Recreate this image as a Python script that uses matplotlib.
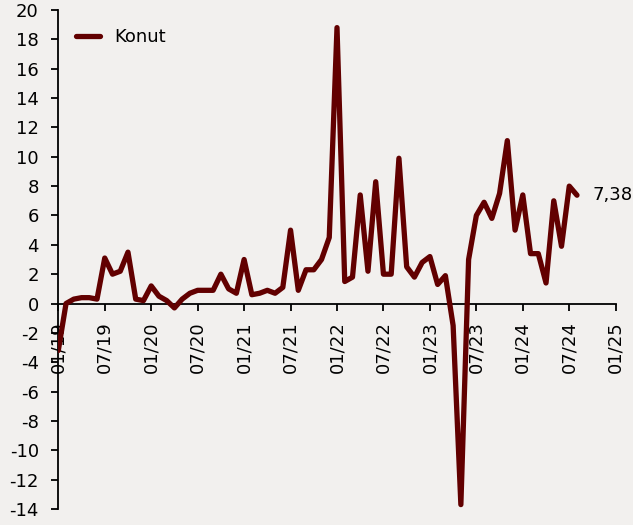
import matplotlib
matplotlib.use("Agg")
import matplotlib.pyplot as plt

# Monthly values, Jan 2019 .. Aug 2024
values = [-3.2, 0.0, 0.3, 0.4, 0.4, 0.3, 3.1, 2.0, 2.2, 3.5, 0.3, 0.2,
          1.2, 0.5, 0.2, -0.3, 0.3, 0.7, 0.9, 0.9, 0.9, 2.0, 1.0, 0.7,
          3.0, 0.6, 0.7, 0.9, 0.7, 1.1, 5.0, 0.9, 2.3, 2.3, 3.0, 4.5,
          18.8, 1.5, 1.8, 7.4, 2.2, 8.3, 2.0, 2.0, 9.9, 2.5, 1.8, 2.8,
          3.2, 1.3, 1.9, -1.5, -13.7, 3.0, 6.0, 6.9, 5.8, 7.5, 11.1, 5.0,
          7.4, 3.4, 3.4, 1.4, 7.0, 3.9, 8.0, 7.38]
tick_labels = ["01/19", "07/19", "01/20", "07/20", "01/21", "07/21", "01/22",
               "07/22", "01/23", "07/23", "01/24", "07/24", "01/25"]
series_name = "Konut"
last_label = "7,38"

months = list(range(len(values)))
tick_pos = [6 * i for i in range(len(tick_labels))]

bg = "#F2F0EE"
line_color = "#620000"
plt.rcParams["font.family"] = ["DejaVu Sans"]
plt.rcParams["axes.unicode_minus"] = False

fig = plt.figure(figsize=(6.33, 5.25), dpi=100, facecolor=bg)
ax = fig.add_axes([58.3 / 633, 1 - 509 / 525, (615.7 - 58.3) / 633, (509 - 10) / 525])
ax.set_facecolor(bg)

ax.plot(months, values, color=line_color, lw=3.8, solid_capstyle="round",
        solid_joinstyle="round", label=series_name, zorder=3)

ax.set_xlim(0, 72)
ax.set_ylim(-14, 20)
ax.set_yticks(range(-14, 21, 2))
ax.set_xticks(tick_pos)
ax.set_xticklabels(tick_labels)

for s in ["top", "right"]:
    ax.spines[s].set_visible(False)
ax.spines["bottom"].set_position(("data", 0))
ax.spines["left"].set_linewidth(1.3)
ax.spines["bottom"].set_linewidth(1.3)
ax.tick_params(axis="y", direction="out", length=5, width=1.3, pad=9, labelsize=13)
ax.tick_params(axis="x", direction="out", length=5, width=1.3, pad=8, labelsize=13,
               labelrotation=90)
for t in ax.get_xticklabels():
    t.set_va("top")
    t.set_ha("center")

ax.annotate(last_label, xy=(months[-1], values[-1]), xytext=(11, 0),
            textcoords="offset points", ha="left", va="center", fontsize=13)

leg = ax.legend(loc="upper left", frameon=False, fontsize=13, handlelength=1.3,
                bbox_to_anchor=(0.0, 1.0), borderaxespad=0.6)

fig.savefig("out.png", dpi=100, facecolor=bg)
